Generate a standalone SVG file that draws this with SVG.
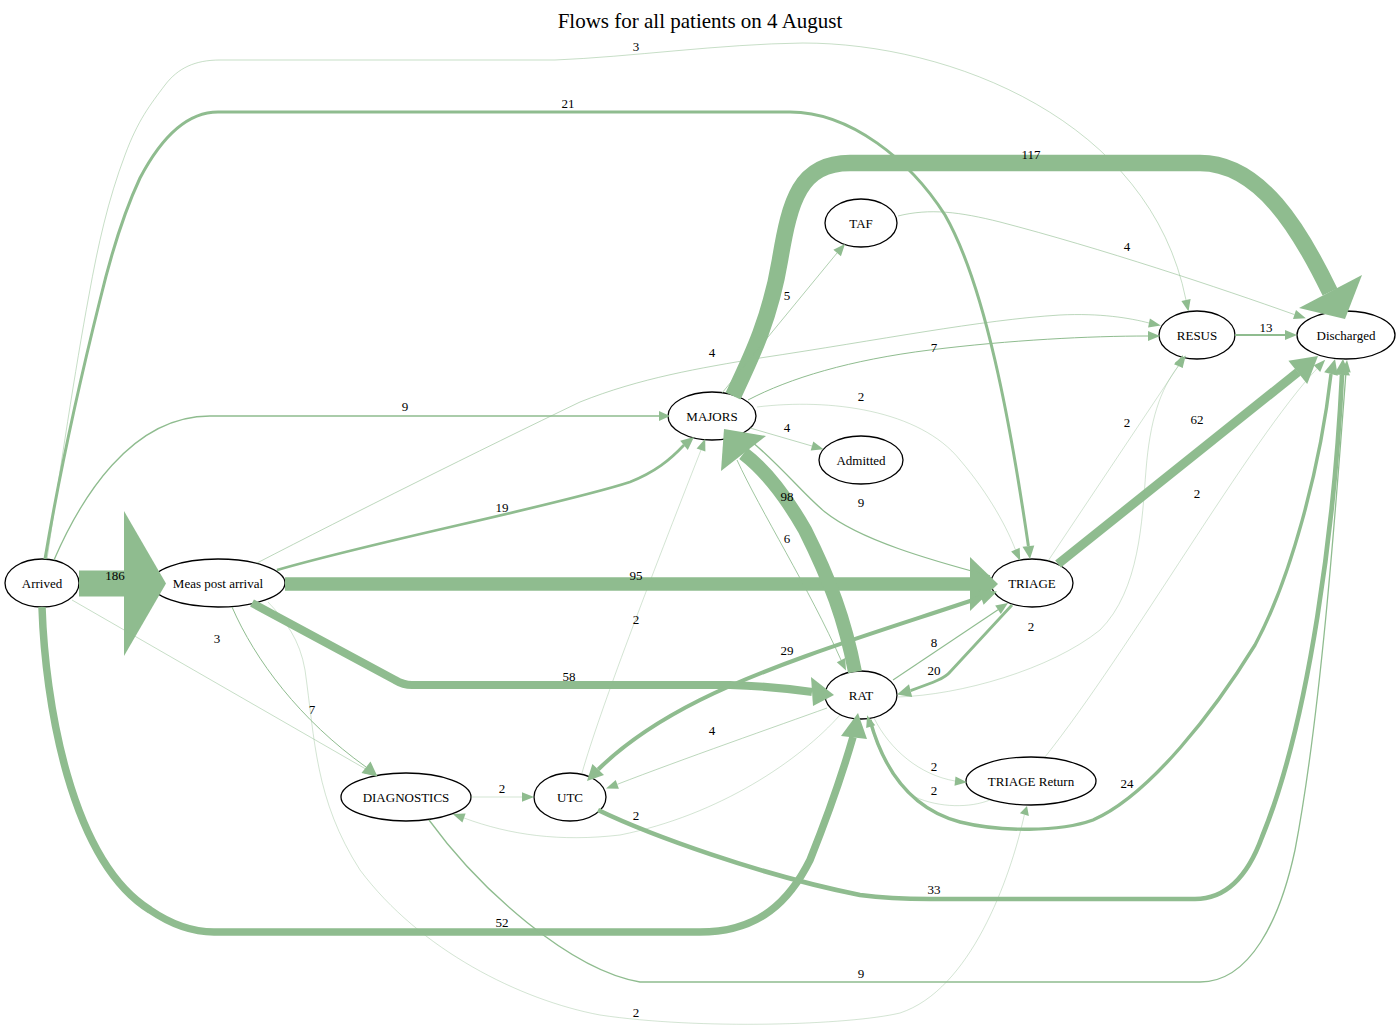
<svg xmlns="http://www.w3.org/2000/svg" width="1400" height="1032" viewBox="0 0 1400 1032">
<style>
  .bg { fill: #ffffff; }
  .title { font-family: "Liberation Serif", "Times New Roman", serif; font-size: 21px; text-anchor: middle; fill: #000; }
  .node ellipse { fill: none; stroke: #000; stroke-width: 1.3; }
  .node text { font-family: "Liberation Serif", "Times New Roman", serif; font-size: 13px; text-anchor: middle; fill: #000; }
  .edge path { fill: none; stroke: #8fbc8f; }
  .edge polygon { fill: #8fbc8f; stroke: none; }
  .edge text { font-family: "Liberation Serif", "Times New Roman", serif; font-size: 13px; text-anchor: middle; fill: #000; }
</style>
<rect class="bg" x="0" y="0" width="1400" height="1032"/>
<text class="title" x="700" y="28">Flows for all patients on 4 August</text>

<g id="nodes">
  <g id="node-arrived" class="node"><ellipse cx="42" cy="583" rx="37" ry="24"/><text x="42" y="587.5">Arrived</text></g>
  <g id="node-meas" class="node"><ellipse cx="218" cy="583" rx="67" ry="24"/><text x="218" y="587.5">Meas post arrival</text></g>
  <g id="node-majors" class="node"><ellipse cx="712" cy="416" rx="44" ry="24"/><text x="712" y="420.5">MAJORS</text></g>
  <g id="node-taf" class="node"><ellipse cx="861" cy="223" rx="36" ry="24"/><text x="861" y="227.5">TAF</text></g>
  <g id="node-admitted" class="node"><ellipse cx="861" cy="460" rx="42" ry="24"/><text x="861" y="464.5">Admitted</text></g>
  <g id="node-resus" class="node"><ellipse cx="1197" cy="335" rx="38" ry="24"/><text x="1197" y="339.5">RESUS</text></g>
  <g id="node-discharged" class="node"><ellipse cx="1346" cy="335" rx="49" ry="24"/><text x="1346" y="339.5">Discharged</text></g>
  <g id="node-triage" class="node"><ellipse cx="1032" cy="583" rx="41" ry="24"/><text x="1032" y="587.5">TRIAGE</text></g>
  <g id="node-rat" class="node"><ellipse cx="861" cy="695" rx="36" ry="24"/><text x="861" y="699.5">RAT</text></g>
  <g id="node-triage-return" class="node"><ellipse cx="1031" cy="781" rx="65" ry="24"/><text x="1031" y="785.5">TRIAGE Return</text></g>
  <g id="node-diagnostics" class="node"><ellipse cx="406" cy="797" rx="65" ry="24"/><text x="406" y="801.5">DIAGNOSTICS</text></g>
  <g id="node-utc" class="node"><ellipse cx="570" cy="797" rx="36" ry="24"/><text x="570" y="801.5">UTC</text></g>
</g>

<g id="edges">
  <!-- Arrived -> Meas post arrival -->
  <g class="edge" id="e-arrived-meas">
    <path d="M79,583.5 L124,583.5" stroke-width="26"/>
    <polygon points="124,511 166,583.5 124,656"/>
    <text x="115" y="580">186</text>
  </g>
  <!-- Arrived -> RESUS -->
  <g class="edge" id="e-arrived-resus">
    <path d="M47,559 C60,470 75,370 89,295 C98,245 108,200 125,155 C138,120 150,105 165,85 C178,68 195,60 220,60 L555,60 C630,57 720,44 803,43 C950,43 1150,120 1186,300" stroke-width="0.5"/>
    <polygon points="1190.6,299.1 1188.5,311.5 1181.4,300.9"/>
    <text x="636" y="51">3</text>
  </g>
  <!-- Arrived -> TRIAGE -->
  <g class="edge" id="e-arrived-triage">
    <path d="M45,559 C60,470 80,380 100,300 C112,250 125,210 140,178 C160,140 185,112 218,112 L790,112 C850,112 910,160 945,215 C985,285 1010,420 1028.4,546" stroke-width="3"/>
    <polygon points="1022.5,546.8 1030,559 1034.3,545.4"/>
    <text x="568" y="108">21</text>
  </g>
  <!-- Arrived -> MAJORS -->
  <g class="edge" id="e-arrived-majors">
    <path d="M54,560 C80,500 130,416 210,416 L659,416" stroke-width="1.3"/>
    <polygon points="659,411 670,416 659,421"/>
    <text x="405" y="411">9</text>
  </g>
  <!-- Arrived -> DIAGNOSTICS -->
  <g class="edge" id="e-arrived-diagnostics">
    <path d="M72,600 L366.6,769.5" stroke-width="0.5"/>
    <polygon points="364.3,773.6 377,775.5 368.9,765.4"/>
    <text x="217" y="643">3</text>
  </g>
  <!-- Arrived -> RAT -->
  <g class="edge" id="e-arrived-rat">
    <path d="M42,607 C45,700 70,860 150,910 C175,927 195,932 214,932 L700,932 C760,932 790,900 810,860 C830,810 842,775 853,737" stroke-width="7.5"/>
    <polygon points="841,736 858,713 867,739"/>
    <text x="502" y="927">52</text>
  </g>
  <!-- Meas post arrival -> TRIAGE -->
  <g class="edge" id="e-meas-triage">
    <path d="M285,584 L971,584" stroke-width="13.5"/>
    <polygon points="970,557 998,584 970,611"/>
    <text x="636" y="580">95</text>
  </g>
  <!-- Meas post arrival -> MAJORS -->
  <g class="edge" id="e-meas-majors">
    <path d="M277,570 C380,540 560,505 630,482 C655,472 670,460 684,445" stroke-width="2.7"/>
    <polygon points="687.8,449.9 694,437 680.2,440.7"/>
    <text x="502" y="512">19</text>
  </g>
  <!-- Meas post arrival -> RESUS -->
  <g class="edge" id="e-meas-resus">
    <path d="M257,563 C350,515 480,450 580,402 C640,378 700,368 760,358 C880,340 980,320 1060,315 C1100,313 1130,318 1149,323" stroke-width="0.6"/>
    <polygon points="1148.1,327.6 1160.8,325.4 1149.9,318.4"/>
    <text x="712" y="357">4</text>
  </g>
  <!-- Meas post arrival -> RAT -->
  <g class="edge" id="e-meas-rat">
    <path d="M252,603 L395,680 C400,683 405,685 412,685 L730,685 C770,686 790,689 812,692" stroke-width="8.2"/>
    <polygon points="811,677 834,695 813,706"/>
    <text x="569" y="681">58</text>
  </g>
  <!-- Meas post arrival -> DIAGNOSTICS -->
  <g class="edge" id="e-meas-diagnostics">
    <path d="M232,607 C255,660 300,720 366,767" stroke-width="1"/>
    <polygon points="361.5,773 377.5,776.5 370.5,761.5"/>
    <text x="312" y="714">7</text>
  </g>
  <!-- Meas post arrival -> TRIAGE Return -->
  <g class="edge" id="e-meas-triagereturn">
    <path d="M268,602 C285,620 300,640 305,670 C315,740 315,800 360,870 C420,950 520,1000 600,1015 C700,1030 850,1025 900,1013 C970,990 1010,880 1024.4,814.6" stroke-width="0.4"/>
    <polygon points="1028.9,815.9 1027,806 1019.9,813.3"/>
    <text x="636" y="1017">2</text>
  </g>
  <!-- MAJORS -> Discharged -->
  <g class="edge" id="e-majors-discharged">
    <path d="M733,396 C750,360 770,320 780,260 C790,200 800,163 850,163 L1200,163 C1260,163 1300,230 1330,292" stroke-width="16.5"/>
    <polygon points="1299,308 1345,319 1362,275"/>
    <text x="1031" y="159">117</text>
  </g>
  <!-- MAJORS -> TAF -->
  <g class="edge" id="e-majors-taf">
    <path d="M722,393 L837,253" stroke-width="0.7"/>
    <polygon points="840.9,256.3 845,244 833.4,249.7"/>
    <text x="787" y="300">5</text>
  </g>
  <!-- MAJORS -> RESUS -->
  <g class="edge" id="e-majors-resus">
    <path d="M748,400 C790,378 850,360 930,350 C1010,340 1090,336 1148,336" stroke-width="1"/>
    <polygon points="1148,331 1160,336 1148,341"/>
    <text x="934" y="352">7</text>
  </g>
  <!-- MAJORS -> TRIAGE -->
  <g class="edge" id="e-majors-triage">
    <path d="M757,407 C830,398 920,410 960,460 C990,495 1008,530 1015.4,549.7" stroke-width="0.4"/>
    <polygon points="1019.7,547.8 1020.2,560.7 1011.1,551.6"/>
    <text x="861" y="401">2</text>
  </g>
  <!-- MAJORS -> Admitted -->
  <g class="edge" id="e-majors-admitted">
    <path d="M750,428 L812,446" stroke-width="0.6"/>
    <polygon points="810.7,450.5 823.5,449.2 813.3,441.5"/>
    <text x="787" y="432">4</text>
  </g>
  <!-- TAF -> Discharged -->
  <g class="edge" id="e-taf-discharged">
    <path d="M898,216 C930,208 960,212 1000,222 C1100,248 1220,288 1294.5,314.6" stroke-width="0.6"/>
    <polygon points="1293,319.1 1305.8,318.3 1296,310.1"/>
    <text x="1127" y="251">4</text>
  </g>
  <!-- RESUS -> Discharged -->
  <g class="edge" id="e-resus-discharged">
    <path d="M1235,335 L1285,335" stroke-width="1.9"/>
    <polygon points="1285,330 1297,335 1285,340"/>
    <text x="1266" y="332">13</text>
  </g>
  <!-- TRIAGE -> Discharged -->
  <g class="edge" id="e-triage-discharged">
    <path d="M1058,564 L1298,372" stroke-width="9"/>
    <polygon points="1307.2,384.1 1318,356 1288.4,360.7"/>
    <text x="1197" y="424">62</text>
  </g>
  <!-- TRIAGE -> MAJORS -->
  <g class="edge" id="e-triage-majors">
    <path d="M990,576 C930,560 860,540 825,512 C805,496 785,470 751.6,441.4" stroke-width="1.3"/>
    <polygon points="755.1,437.8 743,433 748.1,445"/>
    <text x="861" y="507">9</text>
  </g>
  <!-- TRIAGE -> RESUS -->
  <g class="edge" id="e-triage-resus">
    <path d="M1048,561 L1178.8,365.3" stroke-width="0.4"/>
    <polygon points="1182.6,368 1185.8,355.6 1175,362.6"/>
    <text x="1127" y="427">2</text>
  </g>
  <!-- TRIAGE -> RAT -->
  <g class="edge" id="e-triage-rat">
    <path d="M1012,605 L950,672 C945,678 935,682 910.6,690.6" stroke-width="2.8"/>
    <polygon points="912.2,696.9 897,694.5 909,684.3"/>
    <text x="934" y="675">20</text>
  </g>
  <!-- TRIAGE <-> UTC -->
  <g class="edge" id="e-triage-utc">
    <path d="M981,597.3 C900,625 780,660 700,700 C650,725 620,748 598.2,769.5" stroke-width="4.1"/>
    <polygon points="604,775.1 587,781 592.4,763.9"/>
    <polygon points="983.6,604.8 997,591.5 978.4,589.8"/>
    <text x="787" y="655">29</text>
  </g>
  <!-- RAT -> MAJORS -->
  <g class="edge" id="e-rat-majors">
    <path d="M855,672 C845,620 830,580 805,530 C785,495 765,470 743.5,453.5" stroke-width="14"/>
    <polygon points="721,471 724,429 766,436"/>
    <text x="787" y="501">98</text>
  </g>
  <!-- RAT -> TRIAGE -->
  <g class="edge" id="e-rat-triage">
    <path d="M893,680 L998,609.7" stroke-width="1.1"/>
    <polygon points="1000.8,613.9 1008,603 995.2,605.5"/>
    <text x="934" y="647">8</text>
  </g>
  <!-- RAT -> Discharged -->
  <g class="edge" id="e-rat-discharged">
    <path d="M870,720 C885,775 915,810 960,822 C1000,832 1060,832 1093,820 C1150,795 1215,710 1255,645 C1290,580 1320,470 1331,374" stroke-width="3.4"/>
    <polygon points="1337.8,375.8 1335,359 1324.2,372.2"/>
    <text x="1127" y="788">24</text>
  </g>
  <!-- RAT -> TRIAGE Return -->
  <g class="edge" id="e-rat-triagereturn">
    <path d="M874,718 C890,750 920,775 955,781" stroke-width="0.4"/>
    <polygon points="954.5,785.7 967,782.2 955.5,776.4"/>
    <text x="934" y="771">2</text>
  </g>
  <!-- TRIAGE Return -> RAT -->
  <g class="edge" id="e-triagereturn-rat">
    <path d="M990,800 C970,808 940,808 915,797 C895,785 880,755 870.7,726.6" stroke-width="0.4"/>
    <polygon points="875.2,725.2 867.1,715.2 866.2,728"/>
    <text x="934" y="795">2</text>
  </g>
  <!-- RAT -> UTC -->
  <g class="edge" id="e-rat-utc">
    <path d="M827,708 C780,725 680,760 617.3,784.3" stroke-width="0.6"/>
    <polygon points="618.9,788.7 606,788.4 615.7,779.9"/>
    <text x="712" y="735">4</text>
  </g>
  <!-- RAT -> DIAGNOSTICS -->
  <g class="edge" id="e-rat-diagnostics">
    <path d="M840,715 C800,760 720,815 620,835 C560,842 510,835 464,818" stroke-width="0.4"/>
    <polygon points="465.6,813.6 452.7,814 462.4,822.4"/>
    <text x="636" y="820">2</text>
  </g>
  <!-- RAT -> RESUS -->
  <g class="edge" id="e-rat-resus">
    <path d="M898,697 C960,695 1050,670 1100,630 C1140,590 1142,520 1146,470 C1150,420 1160,390 1178.3,366" stroke-width="0.4"/>
    <polygon points="1182.6,367.8 1183,355 1174,364.2"/>
    <text x="1031" y="631">2</text>
  </g>
  <!-- UTC -> MAJORS -->
  <g class="edge" id="e-utc-majors">
    <path d="M582,773 C600,710 650,580 701,450" stroke-width="0.4"/>
    <polygon points="705.4,451.6 705.2,438.7 696.6,448.4"/>
    <text x="636" y="624">2</text>
  </g>
  <!-- UTC -> Discharged -->
  <g class="edge" id="e-utc-discharged">
    <path d="M598,810 C650,835 760,875 860,895 C890,899 910,899 930,899 L1195,899 C1230,899 1250,870 1262,837 C1310,720 1335,520 1342,375" stroke-width="4.7"/>
    <polygon points="1350,375.5 1343,359 1334,374.5"/>
    <text x="934" y="894">33</text>
  </g>
  <!-- DIAGNOSTICS -> UTC -->
  <g class="edge" id="e-diagnostics-utc">
    <path d="M471,797 L522,797" stroke-width="0.4"/>
    <polygon points="522,792.3 534,797 522,801.7"/>
    <text x="502" y="793">2</text>
  </g>
  <!-- DIAGNOSTICS -> Discharged -->
  <g class="edge" id="e-diagnostics-discharged">
    <path d="M429,820 C480,890 570,970 640,982 L1200,982 C1250,982 1280,920 1295,850 C1320,720 1335,520 1346,372" stroke-width="1.3"/>
    <polygon points="1350.7,372.4 1347,360 1341.3,371.6"/>
    <text x="861" y="978">9</text>
  </g>
  <!-- MAJORS -> RAT -->
  <g class="edge" id="e-majors-rat">
    <path d="M737,460 C760,510 810,590 841,660" stroke-width="0.85"/>
    <polygon points="836.8,662.3 846,670.5 845.2,658.1"/>
    <text x="787" y="543">6</text>
  </g>
  <!-- TRIAGE Return -> Discharged -->
  <g class="edge" id="e-triagereturn-discharged">
    <path d="M1045,757 C1130,650 1250,440 1317,368.6" stroke-width="0.4"/>
    <polygon points="1320.2,372 1325.2,359.8 1313.8,365.2"/>
    <text x="1197" y="498">2</text>
  </g>
</g>
</svg>
